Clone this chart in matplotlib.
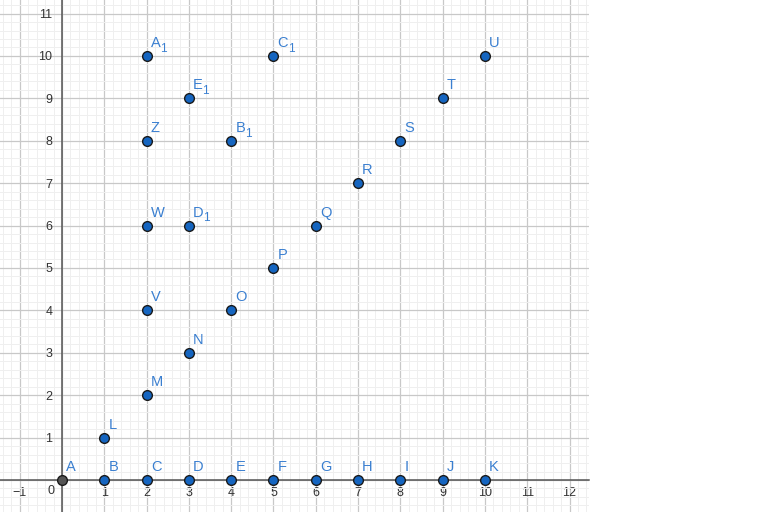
import matplotlib
matplotlib.use("Agg")
import matplotlib.pyplot as plt
from matplotlib.ticker import MultipleLocator, FuncFormatter

plt.rcParams["font.family"] = ["Liberation Sans", "DejaVu Sans"]

# puntos (nombre, subindice, x, y)
nombres = ["A", "B", "C", "D", "E", "F", "G", "H", "I", "J", "K",
           "L", "M", "N", "O", "P", "Q", "R", "S", "T", "U",
           "V", "W", "Z", "A", "B", "C", "D", "E"]
subindices = [""] * 24 + ["1", "1", "1", "1", "1"]
xs = [0, 1, 2, 3, 4, 5, 6, 7, 8, 9, 10,
      1, 2, 3, 4, 5, 6, 7, 8, 9, 10,
      2, 2, 2, 2, 4, 5, 3, 3]
ys = [0, 0, 0, 0, 0, 0, 0, 0, 0, 0, 0,
      1, 2, 3, 4, 5, 6, 7, 8, 9, 10,
      4, 6, 8, 10, 8, 10, 6, 9]

azul = "#1565c0"
azul_txt = "#3a7fd0"
gris_eje = "#555555"

fig = plt.figure(figsize=(7.8, 5.12), dpi=100)
ax = fig.add_axes([0, 0, 589 / 780, 1])
ax.set_xlim(-1.466, 12.46)
ax.set_ylim(-0.755, 11.32)

ax.xaxis.set_major_locator(MultipleLocator(1))
ax.yaxis.set_major_locator(MultipleLocator(1))
ax.xaxis.set_minor_locator(MultipleLocator(0.2))
ax.yaxis.set_minor_locator(MultipleLocator(0.2))
ax.grid(which="major", color="#c8c8c8", linewidth=0.9)
ax.grid(which="minor", color="#efefef", linewidth=0.7)
ax.set_axisbelow(True)

for s in ["top", "right"]:
    ax.spines[s].set_visible(False)
ax.spines["left"].set_position("zero")
ax.spines["bottom"].set_position("zero")
ax.spines["left"].set_color(gris_eje)
ax.spines["bottom"].set_color(gris_eje)
ax.spines["left"].set_linewidth(1.1)
ax.spines["bottom"].set_linewidth(1.1)

fmt = FuncFormatter(lambda v, p: "" if abs(v) < 1e-9 else ("\u22121" if v < 0 else "%d" % v))
ax.xaxis.set_major_formatter(fmt)
ax.yaxis.set_major_formatter(fmt)
ax.tick_params(which="both", length=0, labelsize=9, labelcolor="#333333")
ax.tick_params(axis="x", pad=5)
ax.tick_params(axis="y", pad=7)
ax.text(-0.17, -0.12, "0", fontsize=9, color="#333333", ha="right", va="top")

renderer = fig.canvas.get_renderer()
for n, sub, x, y in zip(nombres, subindices, xs, ys):
    color = "#555555" if (n == "A" and sub == "") else azul
    ax.plot(x, y, "o", markersize=7, markerfacecolor=color,
            markeredgecolor="#1a1a1a", markeredgewidth=1.0, zorder=5)
    t = ax.annotate(n, (x, y), xytext=(3, 6.5), textcoords="offset points",
                    color=azul_txt, fontsize=10.5, ha="left", va="baseline", zorder=6)
    if sub:
        ancho = t.get_window_extent(renderer).width * 72 / fig.dpi
        ax.annotate(sub, (x, y), xytext=(3 + ancho - 0.3, 3), textcoords="offset points",
                    color=azul_txt, fontsize=8.5, ha="left", va="baseline", zorder=6)

fig.savefig("out.png", dpi=100)
